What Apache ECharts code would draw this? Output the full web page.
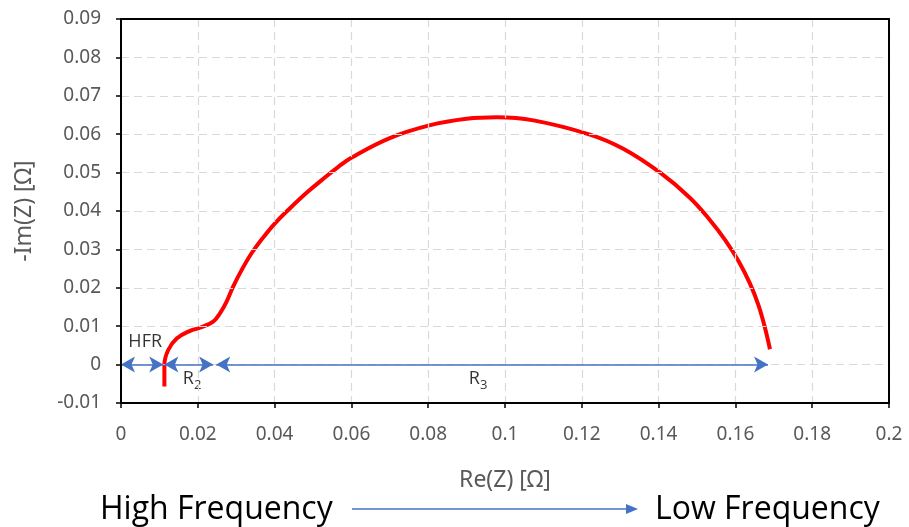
<!DOCTYPE html>
<html>
<head>
<meta charset="utf-8">
<script src="https://cdn.jsdelivr.net/npm/echarts@6/dist/echarts.min.js"></script>
<style>html,body{margin:0;padding:0;background:#fff;}#c{width:909px;height:527px;}</style>
</head>
<body>
<div id="c"></div>
<script>
// Nyquist curve (Re(Z), -Im(Z)) in ohm
const reZ = [0.0113, 0.0113, 0.0123, 0.0145, 0.018, 0.0206, 0.0240, 0.0258, 0.0275, 0.0292, 0.0314, 0.0340, 0.0371, 0.0401, 0.0440, 0.0484, 0.0527, 0.0566, 0.0602, 0.070, 0.0803, 0.090, 0.0978, 0.1074, 0.1221, 0.1308, 0.1405, 0.1482, 0.1534, 0.1573, 0.1608, 0.1638, 0.1660, 0.1677, 0.1690];
const negImZ = [-0.0057, 0.0, 0.0038, 0.0068, 0.0088, 0.0096, 0.0112, 0.0134, 0.0164, 0.0203, 0.0246, 0.0290, 0.0332, 0.0368, 0.0407, 0.0448, 0.0484, 0.0515, 0.0540, 0.0590, 0.0623, 0.0640, 0.0644, 0.0636, 0.0599, 0.0562, 0.0499, 0.0434, 0.0376, 0.0325, 0.0270, 0.0211, 0.0155, 0.0096, 0.0040];
// Resistance spans (double arrows along y = 0)
const spanStart = [0, 0.0113, 0.0248];
const spanEnd = [0.0110, 0.0240, 0.1685];
// Annotation labels
const annoText = ['HFR', '{r|R}{s|2}', '{r|R}{s|3}'];
const annoX = [0.0063, 0.0185, 0.093];
const annoY = [0.0060, -0.0038, -0.0038];
const xTicks = {min: 0, max: 0.2, interval: 0.02};
const yTicks = {min: -0.01, max: 0.09, interval: 0.01};

const chart = echarts.init(document.getElementById('c'));
const fmt = v => String(+(+v).toFixed(2));
const tickFont = "'Noto Sans', sans-serif";
const annoFont = "'Open Sans', sans-serif";
const gridLine = {show: true, lineStyle: {color: '#d9d9d9', type: [8, 5], width: 1.2}};
const frameAxis = {show: true, onZero: false, lineStyle: {color: '#000', width: 2}};
chart.setOption({
  animation: false,
  grid: {left: 121, right: 20, top: 19, bottom: 124},
  xAxis: [{
    type: 'value', min: xTicks.min, max: xTicks.max, interval: xTicks.interval,
    name: 'Re(Z) [Ω]', nameLocation: 'middle', nameGap: 66,
    nameTextStyle: {color: '#595959', fontSize: 23, fontFamily: tickFont},
    axisLine: frameAxis,
    axisTick: {show: true, length: 5, lineStyle: {color: '#000', width: 1.5}},
    axisLabel: {color: '#595959', fontSize: 19, fontFamily: tickFont, margin: 22, formatter: fmt},
    splitLine: gridLine, z: 5
  }, {
    type: 'value', position: 'top', min: xTicks.min, max: xTicks.max, interval: xTicks.interval,
    axisLine: frameAxis, axisTick: {show: false}, axisLabel: {show: false}, splitLine: {show: false}, z: 5
  }],
  yAxis: [{
    type: 'value', min: yTicks.min, max: yTicks.max, interval: yTicks.interval,
    name: '-Im(Z) [Ω]', nameLocation: 'middle', nameGap: 85, nameRotate: 90,
    nameTextStyle: {color: '#595959', fontSize: 23, fontFamily: tickFont},
    axisLine: frameAxis,
    axisTick: {show: true, length: 5, lineStyle: {color: '#000', width: 1.5}},
    axisLabel: {color: '#595959', fontSize: 19, fontFamily: tickFont, margin: 20, formatter: fmt},
    splitLine: gridLine, z: 5
  }, {
    type: 'value', position: 'right', min: yTicks.min, max: yTicks.max, interval: yTicks.interval,
    axisLine: frameAxis, axisTick: {show: false}, axisLabel: {show: false}, splitLine: {show: false}, z: 5
  }],
  series: [
    {
      type: 'line', smooth: 0.4, showSymbol: false, symbol: 'none',
      data: reZ.map((x, i) => [x, negImZ[i]]),
      lineStyle: {color: '#ff0000', width: 4},
      z: 3,
      markLine: {
        silent: true, symbol: ['arrow', 'arrow'], symbolSize: [12, 14],
        label: {show: false},
        lineStyle: {color: '#4472c4', width: 1.5, type: 'solid'},
        data: spanStart.map((s, i) => [{coord: [s, 0]}, {coord: [spanEnd[i], 0]}])
      }
    },
    {
      type: 'scatter', symbolSize: 0,
      data: annoX.map((x, i) => ({value: [x, annoY[i]], label: {formatter: annoText[i]}})),
      label: {
        show: true, position: 'inside', color: '#000', fontSize: 18, fontFamily: annoFont,
        rich: {
          r: {fontSize: 18, color: '#000', fontFamily: annoFont},
          s: {fontSize: 13, color: '#000', fontFamily: annoFont, padding: [12, 0, 0, 0]}
        }
      },
      z: 4
    }
  ],
  graphic: [
    {type: 'text', left: 100, top: 494, style: {text: 'High Frequency', fontSize: 32, fontFamily: annoFont, fill: '#000'}},
    {type: 'line', shape: {x1: 352, y1: 509, x2: 628, y2: 509}, style: {stroke: '#4472c4', lineWidth: 1.5}},
    {type: 'polygon', shape: {points: [[626, 504], [638, 509], [626, 514]]}, style: {fill: '#4472c4'}},
    {type: 'text', left: 655, top: 494, style: {text: 'Low Frequency', fontSize: 32, fontFamily: annoFont, fill: '#000'}}
  ]
});
</script>
</body>
</html>
